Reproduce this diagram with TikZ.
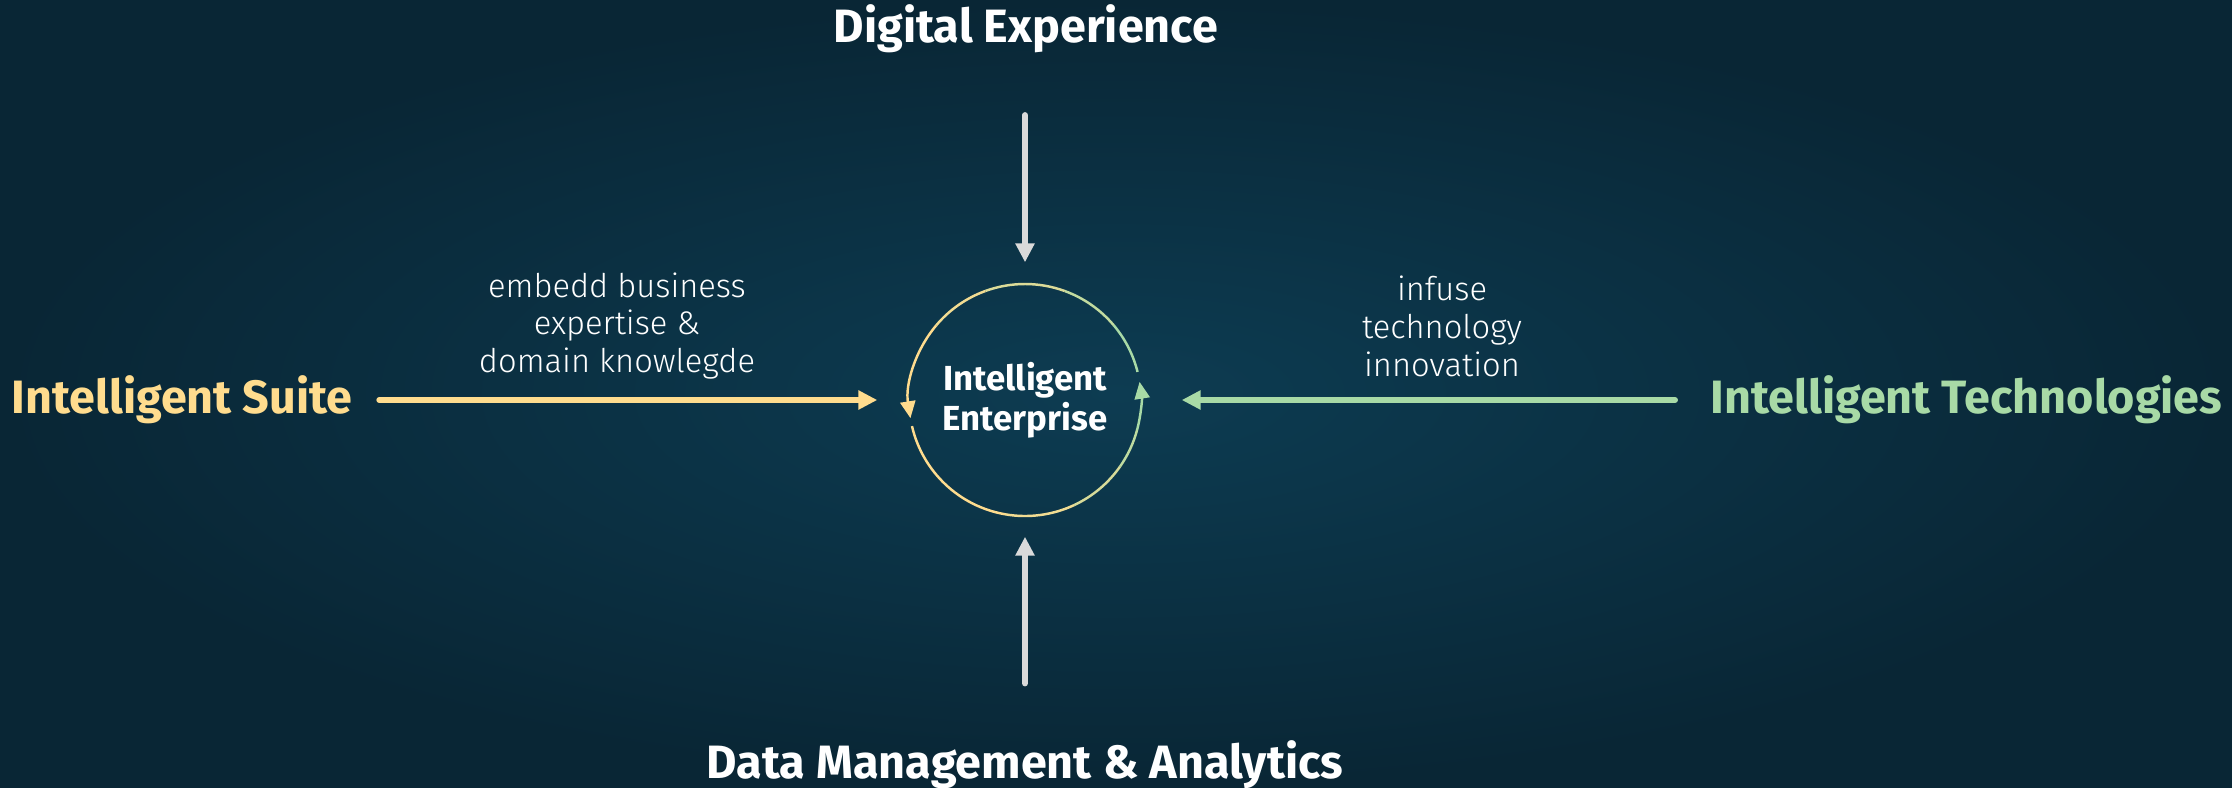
\documentclass[tikz,border=0pt]{standalone}
\usepackage{fontspec}
\setmainfont{Fira Sans}
\newfontfamily\lightfont{Fira Sans}[UprightFont = * Light]
\usetikzlibrary{positioning}
\usetikzlibrary{arrows.meta}
\definecolor{suiteYellow}{RGB}{255,220,142}
\definecolor{techGreen}{RGB}{168,218,166}
\definecolor{arrowGrey}{RGB}{218,218,218}
\definecolor{bgInner}{RGB}{13,60,82}
\definecolor{bgOuter}{RGB}{9,38,53}

\begin{document}
\begin{tikzpicture}[bigLabel/.style  = {font = \bfseries\fontsize{13.3}{16}\selectfont, inner sep = 0pt},
                    noteText/.style  = {font = \lightfont\fontsize{9.3}{10.8}\selectfont, text = white, align = center, inner sep = 0pt},
                    flowArrow/.style = {line width = 1.7pt, line cap = round, -{Triangle[length = 5.4pt, width = 5.2pt]}},
                    loopArc/.style   = {line width = 0.7pt},
                    loopTip/.style   = {-{Triangle[length = 4.8pt, width = 4.3pt]}}]
    % background
    \fill [inner color = bgInner, outer color = bgOuter] (0,0) rectangle (22.32,7.87);
    \useasboundingbox (0,0) rectangle (22.32,7.87);

    \node [circle, minimum size = 2.32cm, inner sep = 0pt, text = white, align = center,
           font = \bfseries\fontsize{9.9}{11.3}\selectfont]                      (core)    at (10.25,3.87) {Intelligent\\Enterprise};
    \coordinate (coreCentre) at (10.25,3.87);

    \node [bigLabel, text = white,       anchor = base]      (digital) at (10.26,7.45) {Digital Experience};
    \node [bigLabel, text = white,       anchor = base]      (data)    at (10.25,0.09) {Data Management \& Analytics};
    \node [bigLabel, text = suiteYellow, anchor = base west] (suite)   at (0.11,3.74)  {Intelligent Suite};
    \node [bigLabel, text = techGreen,   anchor = base east] (tech)    at (22.23,3.74) {Intelligent Technologies};

    \node [noteText] (suiteNote) at (6.17,4.61)  {embedd business\\expertise \&\\domain knowlegde};
    \node [noteText] (techNote)  at (14.42,4.61) {infuse\\technology\\innovation};

    % arrows into the core
    \draw [flowArrow, suiteYellow, shorten <= 0.26cm, shorten >= 0.31cm] (suite.east |- core) -- (core.west);
    \draw [flowArrow, techGreen,   shorten <= 0.35cm, shorten >= 0.40cm] (tech.west |- core)  -- (core.east);
    \draw [flowArrow, arrowGrey,   shorten <= 0.62cm, shorten >= 0.21cm] (core |- digital.south) -- (core.north);
    \draw [flowArrow, arrowGrey,   shorten <= 0.56cm, shorten >= 0.20cm] (core |- data.north)    -- (core.south);

    % the loop round the core
    \draw [loopArc, techGreen]                         (coreCentre) ++(14:1.16)  arc [start angle = 14,  end angle = 40,  radius = 1.16];
    \draw [loopArc, techGreen!70!suiteYellow]          (coreCentre) ++(40:1.16)  arc [start angle = 40,  end angle = 70,  radius = 1.16];
    \draw [loopArc, techGreen!40!suiteYellow]          (coreCentre) ++(70:1.16)  arc [start angle = 70,  end angle = 110, radius = 1.16];
    \draw [loopArc, techGreen!15!suiteYellow]          (coreCentre) ++(110:1.16) arc [start angle = 110, end angle = 140, radius = 1.16];
    \draw [loopArc, loopTip, suiteYellow]              (coreCentre) ++(140:1.16) arc [start angle = 140, end angle = 189, radius = 1.16];
    \draw [loopArc, suiteYellow]                       (coreCentre) ++(193:1.16) arc [start angle = 193, end angle = 260, radius = 1.16];
    \draw [loopArc, suiteYellow!85!techGreen]          (coreCentre) ++(260:1.16) arc [start angle = 260, end angle = 295, radius = 1.16];
    \draw [loopArc, suiteYellow!55!techGreen]          (coreCentre) ++(295:1.16) arc [start angle = 295, end angle = 325, radius = 1.16];
    \draw [loopArc, suiteYellow!25!techGreen]          (coreCentre) ++(325:1.16) arc [start angle = 325, end angle = 345, radius = 1.16];
    \draw [loopArc, loopTip, techGreen]                (coreCentre) ++(345:1.16) arc [start angle = 345, end angle = 369, radius = 1.16];
\end{tikzpicture}
\end{document}
